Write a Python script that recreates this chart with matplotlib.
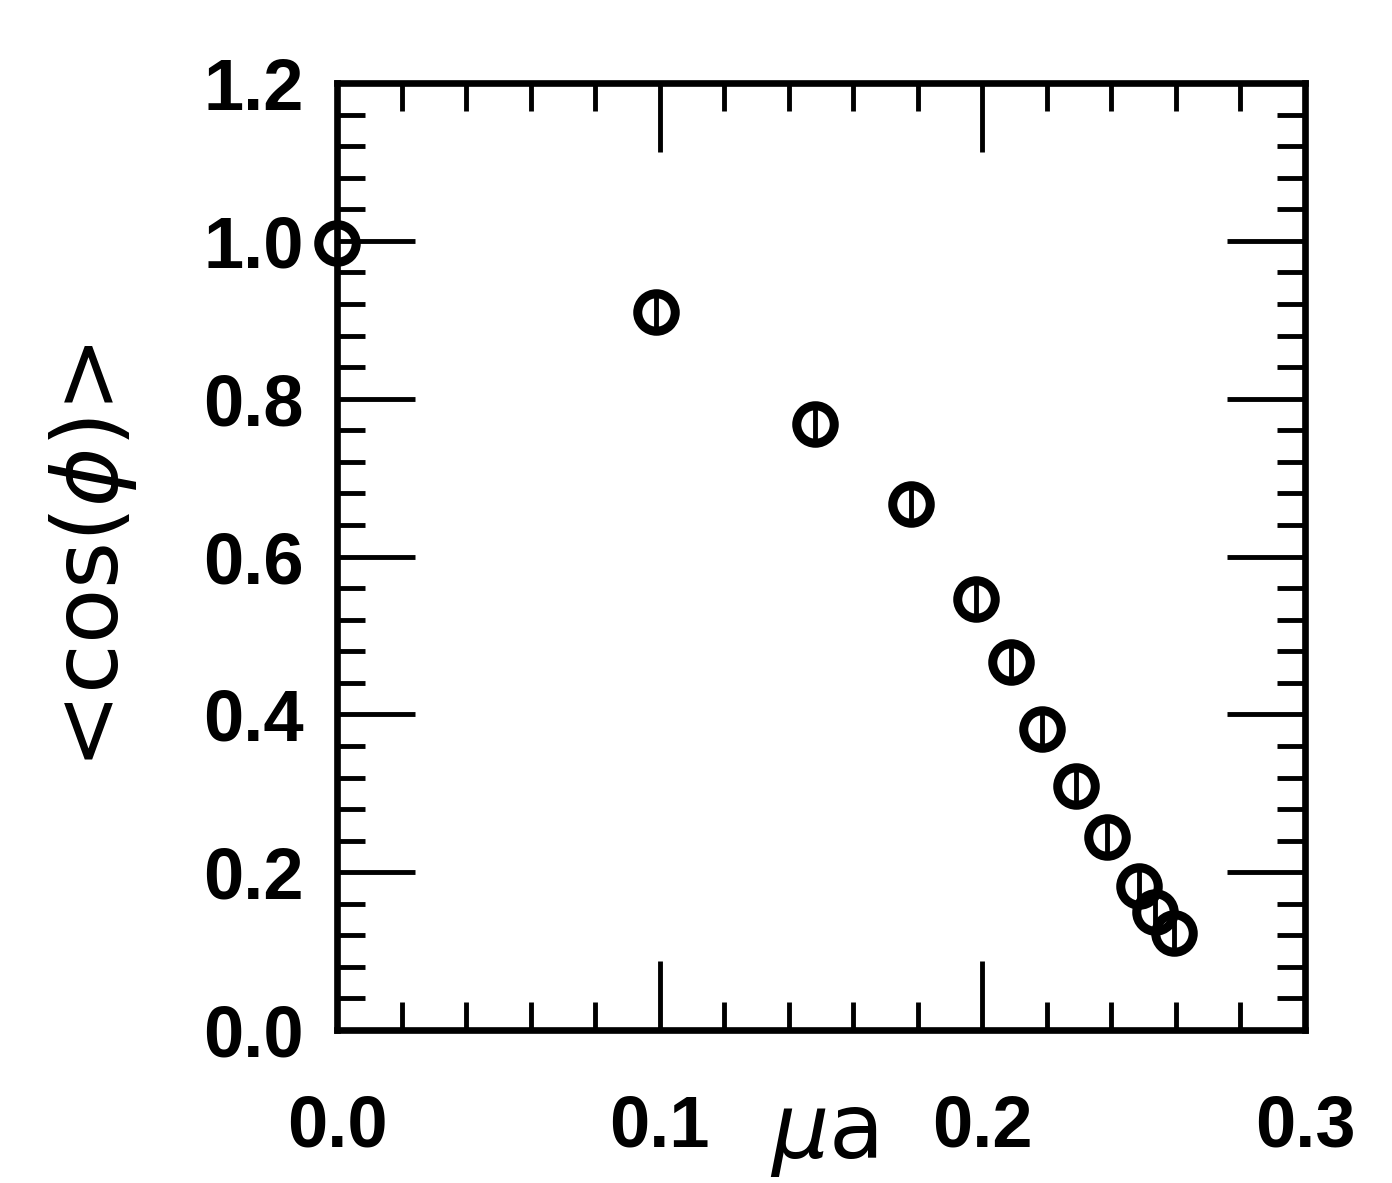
import matplotlib.pyplot as plt
from matplotlib.ticker import MultipleLocator, FormatStrFormatter

# values
mu_a = [0.0, 0.099, 0.148, 0.178, 0.198, 0.209, 0.2185, 0.229, 0.2385, 0.2485, 0.2535, 0.2595]
cos_phi = [0.997, 0.910, 0.768, 0.667, 0.546, 0.467, 0.381, 0.309, 0.245, 0.182, 0.150, 0.123]
cos_err = [0.022, 0.022, 0.022, 0.022, 0.022, 0.022, 0.022, 0.022, 0.022, 0.022, 0.022, 0.022]

x_ticks = [0.0, 0.1, 0.2, 0.3]
y_ticks = [0.0, 0.2, 0.4, 0.6, 0.8, 1.0, 1.2]

plt.rcParams["font.family"] = ["DejaVu Sans"]
plt.rcParams["mathtext.fontset"] = "dejavusans"

fig = plt.figure(figsize=(13.92, 11.83), dpi=100)
ax = fig.add_axes([0.2421, 0.1293, 0.6954, 0.8005])

eb = ax.errorbar(mu_a, cos_phi, yerr=cos_err, fmt="o", mfc="none", mec="black",
                 ms=27, mew=6.5, ecolor="black", elinewidth=3.5, capsize=0)
for art in eb.get_children():
    art.set_clip_on(False)

ax.set_xlim(0.0, 0.3)
ax.set_ylim(0.0, 1.2)
ax.set_xticks(x_ticks)
ax.set_yticks(y_ticks)
ax.xaxis.set_minor_locator(MultipleLocator(0.02))
ax.yaxis.set_minor_locator(MultipleLocator(0.04))
ax.xaxis.set_major_formatter(FormatStrFormatter("%.1f"))
ax.yaxis.set_major_formatter(FormatStrFormatter("%.1f"))

for s in ax.spines.values():
    s.set_linewidth(4.8)

ax.tick_params(which="both", direction="in", top=True, right=True, width=3.5)
ax.tick_params(axis="x", which="major", length=50, pad=46)
ax.tick_params(axis="y", which="major", length=56, pad=24)
ax.tick_params(which="minor", length=20)
for lab in ax.get_xticklabels() + ax.get_yticklabels():
    lab.set_fontsize(52)
    lab.set_fontweight("bold")
    lab.set_family("Liberation Sans")

ax.text(0.151, -0.135, r"$\mu$a", transform=ax.get_xaxis_transform(),
        ha="center", va="baseline", fontsize=65)
ax.set_ylabel(r"<cos($\phi$)>", fontsize=65)
ax.yaxis.set_label_coords(-0.205, 0.5)

plt.savefig("out.png", dpi=100)
